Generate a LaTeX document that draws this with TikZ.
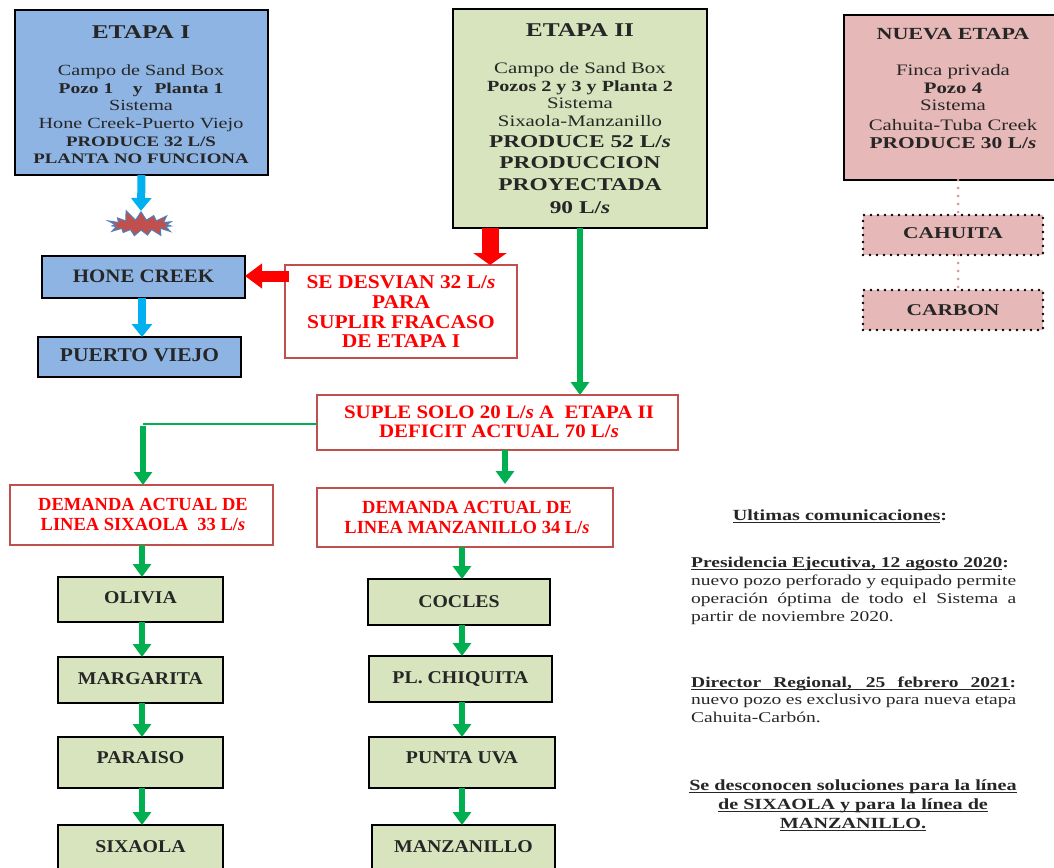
\documentclass[tikz,border=0pt]{standalone}
\usepackage{fontspec}
\setmainfont{Liberation Serif}
\newfontfamily\widefam{Liberation Serif}[FakeStretch=1.3]
\newfontfamily\midfam{Liberation Serif}[FakeStretch=1.1]
\usetikzlibrary{arrows.meta,shapes.symbols}
\newcommand\wfont[1]{\widefam\fontsize{#1}{#1}\selectfont}
\newcommand\mfont[1]{\midfam\fontsize{#1}{#1}\selectfont}
\newcommand\nfont[1]{\fontsize{#1}{#1}\selectfont}
\newcommand\uln[1]{\setbox0\hbox{#1}\rlap{\rule[-2.6pt]{\wd0}{1.1pt}}\box0}
\definecolor{blueF}{HTML}{8EB4E3}
\definecolor{greenF}{HTML}{D7E4BD}
\definecolor{pinkF}{HTML}{E6B9B8}
\definecolor{redB}{HTML}{C0504D}
\definecolor{gArrow}{HTML}{00B050}
\definecolor{cArrow}{HTML}{00B0F0}
\definecolor{pinkDot}{HTML}{D99694}
\definecolor{starBlue}{HTML}{4F81BD}
\definecolor{txtG}{HTML}{262626}
\tikzset{
  bx/.style={draw=black, line width=2.5pt, inner sep=0pt, outer sep=0pt, anchor=north west},
  rbx/.style={draw=redB, line width=2pt, fill=white, inner sep=0pt, outer sep=0pt, anchor=north west},
  dbx/.style={draw=black, line width=2.6pt, dash pattern=on 0pt off 7pt, line cap=round, fill=pinkF, inner sep=0pt, outer sep=0pt, anchor=north west},
  lbl/.style={anchor=base, inner sep=0pt, text=txtG},
  rlbl/.style={anchor=base, inner sep=0pt, text=red},
  garrow/.style={draw=gArrow, line width=6pt, -{Triangle[width=18pt,length=13pt]}},
  gline/.style={draw=gArrow, line width=2.5pt},
  carrow/.style={draw=cArrow, line width=8pt, -{Triangle[width=20pt,length=13pt]}},
  rarrow/.style={draw=red, line width=17pt, -{Triangle[width=33pt,length=12pt]}},
  rarrowl/.style={draw=red, line width=11pt, -{Triangle[width=24pt,length=17pt]}},
  pdot/.style={draw=pinkDot, line width=3pt, dash pattern=on 0pt off 8pt, line cap=round}
}
\begin{document}
\begin{tikzpicture}[x=1pt,y=-1pt]
\useasboundingbox (0,0) rectangle (1054,867);

% ---------- ETAPA I ----------
\node[bx, fill=blueF, minimum width=253pt, minimum height=165pt] (e1) at (15,10) {};
\foreach \yy/\txt [count=\i] in {
  38/{\wfont{19.5}\bfseries ETAPA I},
  75/{\wfont{15.5}Campo de Sand Box},
  93/{\wfont{15}\bfseries Pozo 1\hspace{1.3em}y\hspace{0.8em}Planta 1},
  110/{\wfont{15.5}Sistema},
  128/{\wfont{15.5}Hone Creek-Puerto Viejo},
  146/{\wfont{14.5}\bfseries PRODUCE 32 L/S},
  163/{\wfont{14.5}\bfseries PLANTA NO FUNCIONA}}
  \node[lbl] (e1l\i) at (141,\yy) {\txt};

% ---------- ETAPA II ----------
\node[bx, fill=greenF, minimum width=254pt, minimum height=219pt] (e2) at (453,9) {};
\foreach \yy/\txt [count=\i] in {
  37/{\wfont{19.5}\bfseries ETAPA II},
  74/{\wfont{16}Campo de Sand Box},
  91/{\wfont{15.5}\bfseries Pozos 2 y 3 y Planta 2},
  108/{\wfont{16}Sistema},
  126/{\wfont{16}Sixaola-Manzanillo},
  147/{\wfont{18}\bfseries PRODUCE 52 L/\textit{s}},
  168/{\wfont{18}\bfseries PRODUCCION},
  190/{\wfont{18}\bfseries PROYECTADA},
  213/{\wfont{18}\bfseries 90 L/\textit{s}}}
  \node[lbl] (e2l\i) at (580,\yy) {\txt};

% ---------- NUEVA ETAPA ----------
\node[bx, fill=pinkF, minimum width=218pt, minimum height=165pt] (ne) at (844,15) {};
\foreach \yy/\txt [count=\i] in {
  40/{\wfont{17}\bfseries NUEVA ETAPA},
  75/{\wfont{16}Finca privada},
  93/{\wfont{16}\bfseries Pozo 4},
  110/{\wfont{16}Sistema},
  130/{\wfont{16}Cahuita-Tuba Creek},
  148/{\wfont{16.5}\bfseries PRODUCE 30 L/\textit{s}}}
  \node[lbl] (nel\i) at (953,\yy) {\txt};

\node[dbx, minimum width=180pt, minimum height=40pt] (cah) at (863,215) {};
\node[lbl] (cahl) at (953,238) {\wfont{16.5}\bfseries CAHUITA};
\node[dbx, minimum width=180pt, minimum height=40pt] (car) at (863,290) {};
\node[lbl] (carl) at (953,315) {\wfont{16.5}\bfseries CARBON};
\draw[pdot] ([xshift=5pt]ne.south) -- ([xshift=5pt]cah.north);
\draw[pdot] ([xshift=5pt]cah.south) -- ([xshift=5pt]car.north);

% ---------- star ----------
\node[starburst, starburst points=15, starburst point height=11pt, random starburst=11,
      fill=redB, draw=starBlue, line width=1pt, minimum width=74pt, minimum height=32pt,
      inner sep=0pt] (star) at (141,225) {};
\draw[carrow] (e1.south) -- (star.north);

% ---------- Hone Creek / Puerto Viejo ----------
\node[bx, fill=blueF, minimum width=203pt, minimum height=42pt] (hone) at (42,256) {};
\node[lbl] (honel) at (143.5,282) {\mfont{19}\bfseries HONE CREEK};
\node[bx, fill=blueF, minimum width=203pt, minimum height=40pt] (pv) at (38,337) {};
\node[lbl] (pvl) at (139.5,361) {\mfont{19.5}\bfseries PUERTO VIEJO};
\draw[carrow] ([xshift=-1.5pt]hone.south) -- ([xshift=-1.5pt]hone.south |- pv.north);

% ---------- Se desvian ----------
\node[rbx, minimum width=232pt, minimum height=93pt] (sed) at (285,265) {};
\foreach \yy/\txt [count=\i] in {
  288/{SE DESVIAN 32 L/\textit{s}},
  308/{PARA},
  328/{SUPLIR FRACASO},
  347/{DE ETAPA I}}
  \node[rlbl] (sedl\i) at (401,\yy) {\mfont{19.5}\bfseries\txt};
\coordinate (rx) at (490,0);
\draw[rarrow] (e2.south -| rx) -- (sed.north -| rx);
\coordinate (ry) at (0,276);
\draw[rarrowl] ([xshift=4pt]sed.west |- ry) -- (hone.east |- ry);

% ---------- Suple ----------
\node[rbx, minimum width=361pt, minimum height=55pt] (sup) at (317,395) {};
\node[rlbl] (supl1) at (499,418) {\mfont{19}\bfseries SUPLE SOLO 20 L/\textit{s} A\ \ ETAPA II};
\node[rlbl] (supl2) at (499,437) {\mfont{19}\bfseries DEFICIT ACTUAL 70 L/\textit{s}};
\coordinate (gx) at (580,0);
\draw[garrow] (e2.south -| gx) -- (sup.north -| gx);

% ---------- Demanda boxes ----------
\node[rbx, minimum width=263pt, minimum height=60pt] (dsx) at (10,485) {};
\node[rlbl] (dsxl1) at (143,510) {\nfont{18.5}\bfseries DEMANDA ACTUAL DE};
\node[rlbl] (dsxl2) at (143,530) {\nfont{18.5}\bfseries LINEA SIXAOLA\ \ 33 L/\textit{s}};
\node[rbx, minimum width=296pt, minimum height=59pt] (dmz) at (317,488) {};
\node[rlbl] (dmzl1) at (467,513) {\nfont{18.5}\bfseries DEMANDA ACTUAL DE};
\node[rlbl] (dmzl2) at (467,533) {\nfont{18.5}\bfseries LINEA MANZANILLO 34 L/\textit{s}};

\coordinate (c1) at (143,424);
\draw[gline] (sup.west |- c1) -- (c1);
\draw[garrow] ([yshift=-2pt]c1) -- (dsx.north -| c1);
\coordinate (g2) at (505,484);
\draw[garrow] (sup.south -| g2) -- (g2);

% ---------- left chain ----------
\node[bx, fill=greenF, minimum width=165pt, minimum height=45pt] (oli) at (58,577) {};
\node[lbl] (olil) at (140.5,603) {\mfont{18}\bfseries OLIVIA};
\node[bx, fill=greenF, minimum width=165pt, minimum height=46pt] (mar) at (58,657) {};
\node[lbl] (marl) at (140.5,684) {\mfont{18}\bfseries MARGARITA};
\node[bx, fill=greenF, minimum width=165pt, minimum height=51pt] (par) at (58,737) {};
\node[lbl] (parl) at (140.5,763) {\mfont{18}\bfseries PARAISO};
\node[bx, fill=greenF, minimum width=165pt, minimum height=55pt] (six) at (58,825) {};
\node[lbl] (sixl) at (140.5,852) {\mfont{18}\bfseries SIXAOLA};
\coordinate (lx) at (142,0);
\draw[garrow] (dsx.south -| lx) -- (oli.north -| lx);
\draw[garrow] (oli.south -| lx) -- (mar.north -| lx);
\draw[garrow] (mar.south -| lx) -- (par.north -| lx);
\draw[garrow] (par.south -| lx) -- (six.north -| lx);

% ---------- right chain ----------
\node[bx, fill=greenF, minimum width=182pt, minimum height=46pt] (coc) at (368,579) {};
\node[lbl] (cocl) at (459,607) {\mfont{18}\bfseries COCLES};
\node[bx, fill=greenF, minimum width=183pt, minimum height=46pt] (pch) at (369,656) {};
\node[lbl] (pchl) at (460.5,683) {\mfont{18}\bfseries PL. CHIQUITA};
\node[bx, fill=greenF, minimum width=186pt, minimum height=51pt] (puv) at (369,737) {};
\node[lbl] (puvl) at (462,763) {\mfont{18}\bfseries PUNTA UVA};
\node[bx, fill=greenF, minimum width=183pt, minimum height=55pt] (man) at (372,825) {};
\node[lbl] (manl) at (463.5,852) {\mfont{18}\bfseries MANZANILLO};
\coordinate (rxx) at (462,0);
\draw[garrow] (dmz.south -| rxx) -- (coc.north -| rxx);
\draw[garrow] (coc.south -| rxx) -- (pch.north -| rxx);
\draw[garrow] (pch.south -| rxx) -- (puv.north -| rxx);
\draw[garrow] (puv.south -| rxx) -- (man.north -| rxx);

% ---------- right texts ----------
\node[lbl] (uc) at (840,520) {\wfont{15.5}\bfseries\uln{Ultimas comunicaciones}:};
\node[anchor=north west, inner sep=0pt, text width=325pt, align=justify, text=txtG,
      font={\widefam\fontsize{15}{18}\selectfont}] (p1) at (691,556.5)
  {\textbf{\uln{Presidencia Ejecutiva, 12 agosto 2020}:}\linebreak
   nuevo pozo perforado y equipado permite\linebreak
   operación óptima de todo el Sistema a\linebreak
   partir de noviembre 2020.};
\node[anchor=north west, inner sep=0pt, text width=325pt, align=justify, text=txtG,
      font={\widefam\fontsize{15}{17.5}\selectfont}] (p2) at (691,676.5)
  {\textbf{\setbox1\hbox{:}\uln{\makebox[\dimexpr325pt-\wd1\relax][s]{Director Regional, 25 febrero 2021}}:}\linebreak
   nuevo pozo es exclusivo para nueva etapa\linebreak
   Cahuita-Carbón.};
\node[anchor=north, inner sep=0pt, align=center, text=txtG,
      font={\widefam\fontsize{15.5}{19}\selectfont\bfseries}] (p3) at (853,779.5)
  {\uln{Se desconocen soluciones para la línea}\\
   \uln{de SIXAOLA y para la línea de}\\
   \uln{MANZANILLO.}};
\end{tikzpicture}
\end{document}
